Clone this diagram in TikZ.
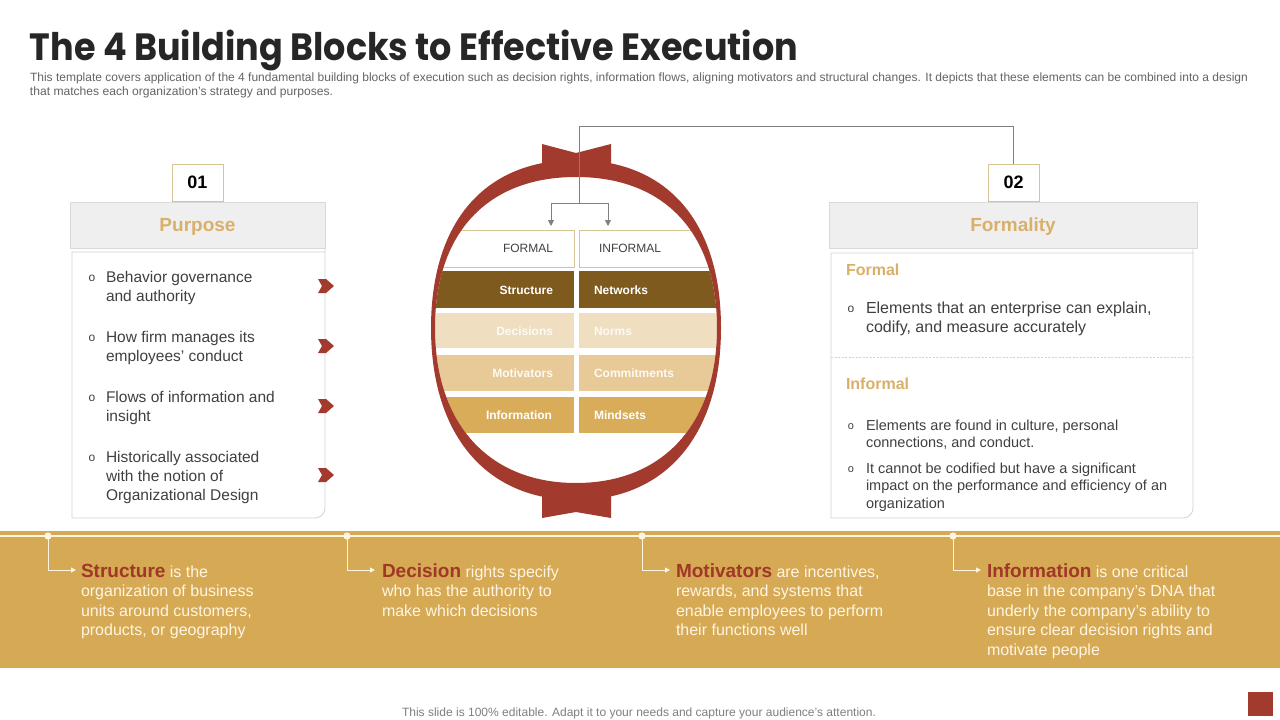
\documentclass[tikz,border=0pt]{standalone}
\usepackage{fontspec}
\setmainfont{Liberation Sans}
\newfontfamily\titlefont{Poppins}
\usetikzlibrary{arrows.meta}
\definecolor{ringred}{RGB}{163,58,46}
\definecolor{gold}{RGB}{214,169,84}
\definecolor{tantext}{RGB}{217,176,106}
\definecolor{tanline}{RGB}{214,196,150}
\definecolor{brownrow}{RGB}{127,90,30}
\definecolor{beigeA}{RGB}{240,222,192}
\definecolor{beigeB}{RGB}{232,202,152}
\definecolor{inforow}{RGB}{217,172,90}
\definecolor{bandred}{RGB}{160,56,40}
\definecolor{bandtext}{RGB}{255,245,225}
\definecolor{titlecol}{RGB}{38,38,38}
\definecolor{subcol}{RGB}{100,100,100}
\definecolor{bodytext}{RGB}{64,64,64}
\definecolor{hdrfill}{RGB}{239,239,239}
\definecolor{hdrline}{RGB}{217,217,217}
\definecolor{boxline}{RGB}{210,210,210}
\definecolor{connector}{RGB}{128,128,128}
\definecolor{footcol}{RGB}{128,128,128}
\newcommand\bkey[1]{{\color{bandred}\bfseries\fontsize{19}{19.5}\selectfont #1}}
\begin{document}
\begin{tikzpicture}[x=1pt,y=-1pt,
  every node/.style={inner sep=0pt, outer sep=0pt},
  numbox/.style={draw=tanline, fill=white, line width=0.7pt, minimum width=51pt, minimum height=37pt,
    font=\bfseries\fontsize{18}{20}\selectfont, text=black},
  hdrbox/.style={draw=hdrline, fill=hdrfill, line width=0.7pt, minimum height=46pt,
    text height=13.7pt, text depth=0pt,
    font=\bfseries\fontsize{19}{22}\selectfont, text=tantext},
  panel/.style={draw=boxline, line width=0.8pt},
  itemtxt/.style={anchor=base west, align=left, font=\fontsize{15.5}{19}\selectfont, text=bodytext},
  smalltxt/.style={anchor=base west, align=left, font=\fontsize{14.5}{17.8}\selectfont, text=bodytext},
  bul/.style={anchor=base, font=\fontsize{12}{12}\selectfont, text=bodytext},
  subhead/.style={anchor=base west, font=\bfseries\fontsize{16}{18}\selectfont, text=tantext},
  chev/.style={fill=ringred},
  celltxt/.style={font=\bfseries\fontsize{12}{14}\selectfont},
  conn/.style={draw=connector, line width=0.9pt},
  connarrow/.style={conn, -{Triangle[length=6pt,width=6pt]}},
  bandarrow/.style={draw=bandtext, line width=1pt, -{Triangle[length=5pt,width=5pt]}},
  bandtxt/.style={anchor=base west, align=left, font=\fontsize{16}{19.5}\selectfont, text=bandtext}
]
\useasboundingbox[fill=white] (0,0) rectangle (1280,720);

% ---------- title ----------
\node[anchor=base west, text=titlecol] (title) at (30,60)
  {\resizebox{768pt}{\height}{\titlefont\bfseries\fontsize{38}{44}\selectfont The 4 Building Blocks to Effective Execution}};
\node[anchor=base west, text=subcol] (sub1) at (30,81.5)
  {\resizebox{1218pt}{\height}{\fontsize{12}{14}\selectfont This template covers application of the 4 fundamental building blocks of execution such as decision rights, information flows, aligning motivators and structural changes. It depicts that these elements can be combined into a design}};
\node[anchor=base west, text=subcol] (sub2) at (30,95.5)
  {\resizebox{303pt}{\height}{\fontsize{12}{14}\selectfont that matches each organization’s strategy and purposes.}};

% ---------- left panel ----------
\draw[panel] (325,252) -- (72,252) -- (72,518) [rounded corners=10pt] -- (325,518) -- (325,252) [sharp corners] -- cycle;
\node[hdrbox, minimum width=255pt] (hp) at (197.5,225) {Purpose};
\node[numbox] (n01) at (197.5,182.5) {01};

% multi-line nodes: base anchor = baseline of the last line
\node[bul] (b1) at (92,281) {o};
\node[itemtxt] (i1) at (106,301) {Behavior governance\\and authority};
\node[bul] (b2) at (92,341) {o};
\node[itemtxt] (i2) at (106,361) {How firm manages its\\employees' conduct};
\node[bul] (b3) at (92,401) {o};
\node[itemtxt] (i3) at (106,421) {Flows of information and\\insight};
\node[bul] (b4) at (92,461) {o};
\node[itemtxt] (i4) at (106,500) {Historically associated\\with the notion of\\Organizational Design};

\foreach \yy in {286,346,406,475}{
  \fill[chev] (318,\yy-7) -- (326,\yy-7) -- (334,\yy) -- (326,\yy+7) -- (318,\yy+7) -- (322,\yy) -- cycle;
}

% ---------- right panel ----------
\draw[panel] (1193,253) -- (831,253) -- (831,518) [rounded corners=10pt] -- (1193,518) -- (1193,253) [sharp corners] -- cycle;
\node[hdrbox, minimum width=368pt] (hf) at (1013,225) {Formality};
\node[numbox] (n02) at (1013.5,182.5) {02};
\node[subhead] (sf) at (846,275) {Formal};
\node[bul] (rb1) at (851,312) {o};
\node[itemtxt, font=\fontsize{16}{19}\selectfont] (ri1) at (866,332) {Elements that an enterprise can explain,\\codify, and measure accurately};
\draw[draw=boxline, line width=0.8pt, dash pattern=on 2pt off 1.5pt] (831,357) -- (1193,357);
\node[subhead] (si) at (846,389) {Informal};
\node[bul, font=\fontsize{11}{12}\selectfont] (rb2) at (851,429) {o};
\node[smalltxt] (ri2) at (866,447.8) {Elements are found in culture, personal\\connections, and conduct.};
\node[bul, font=\fontsize{11}{12}\selectfont] (rb3) at (851,472) {o};
\node[smalltxt] (ri3) at (866,508.6) {It cannot be codified but have a significant\\impact on the performance and efficiency of an\\organization};

% ---------- central ring ----------
\def\innerpath{(576,177) .. controls (487.2,177) and (435,233) .. (435,328) .. controls (435,424) and (489,483) .. (576,483) .. controls (663,483) and (717,424) .. (717,328) .. controls (717,233) and (664.8,177) .. (576,177) -- cycle}
\def\outerpath{(576,160) .. controls (484.6,160) and (431,222) .. (431,328) .. controls (431,434.6) and (486,500) .. (576,500) .. controls (666,500) and (721,434.6) .. (721,328) .. controls (721,222) and (667.4,160) .. (576,160) -- cycle}

\begin{scope}
  \clip \innerpath;
  \filldraw[fill=white, draw=tanline, line width=0.7pt] (420,230) rectangle (574,267);
  \filldraw[fill=white, draw=tanline, line width=0.7pt] (579,230) rectangle (735,267);
  \fill[brownrow] (420,271) rectangle (574,308);
  \fill[brownrow] (579,271) rectangle (735,308);
  \fill[beigeA] (420,313) rectangle (574,348);
  \fill[beigeA] (579,313) rectangle (735,348);
  \fill[beigeB] (420,355) rectangle (574,391);
  \fill[beigeB] (579,355) rectangle (735,391);
  \fill[inforow] (420,397) rectangle (574,433);
  \fill[inforow] (579,397) rectangle (735,433);
\end{scope}
\fill[ringred, even odd rule] \outerpath \innerpath;
\fill[ringred] (542,144) -- (576,153) -- (611,144) -- (611,176) -- (542,176) -- cycle;
\fill[ringred] (542,485) -- (611,485) -- (611,518) -- (576,512) -- (542,518) -- cycle;

\node[font=\fontsize{12}{14}\selectfont, text=bodytext] (formal) at (528,248) {FORMAL};
\node[font=\fontsize{12}{14}\selectfont, text=bodytext] (informal) at (630,248) {INFORMAL};
\node[celltxt, anchor=base east, text=white] (c1) at (553,294) {Structure};
\node[celltxt, anchor=base west, text=white] (c2) at (594,294) {Networks};
\node[celltxt, anchor=base east, text=white!85!beigeA] (c3) at (553,335.5) {Decisions};
\node[celltxt, anchor=base west, text=white!85!beigeA] (c4) at (594,335.5) {Norms};
\node[celltxt, anchor=base east, text=white!90!beigeB] (c5) at (553,377.5) {Motivators};
\node[celltxt, anchor=base west, text=white!90!beigeB] (c6) at (594,377.5) {Commitments};
\node[celltxt, anchor=base east, text=white] (c7) at (552,419) {Information};
\node[celltxt, anchor=base west, text=white] (c8) at (594,419) {Mindsets};

% connectors
\coordinate (k1) at (1013.5,126);
\coordinate (k2) at (579,126);
\coordinate (k3) at (579,203);
\coordinate (kl) at (551,203);
\coordinate (kr) at (608,203);
\coordinate (tl) at (551,226);
\coordinate (tr) at (608,226);
\draw[conn] (n02.north) -- (k1) -- (k2) -- (k3);
\draw[conn] (kl) -- (kr);
\draw[connarrow] (kl) -- (tl);
\draw[connarrow] (kr) -- (tr);

% ---------- bottom band ----------
\fill[gold] (0,531) rectangle (1280,668);
\draw[draw=bandtext, line width=1.1pt] (0,536) -- (1280,536);
\foreach \n/\xx in {d1/48,d2/347,d3/642,d4/953}{
  \fill[bandtext] (\xx,536) circle (3.6pt);
  \coordinate (\n) at (\xx,536);
}
\coordinate (a1) at (76,570);
\coordinate (a2) at (375,570);
\coordinate (a3) at (670,570);
\coordinate (a4) at (981,570);
\draw[bandarrow] (d1) |- (a1);
\draw[bandarrow] (d2) |- (a2);
\draw[bandarrow] (d3) |- (a3);
\draw[bandarrow] (d4) |- (a4);

\node[bandtxt] (t1) at (81,635.5) {\bkey{Structure} is the\\organization of business\\units around customers,\\products, or geography};
\node[bandtxt] (t2) at (382,616) {\bkey{Decision} rights specify\\who has the authority to\\make which decisions};
\node[bandtxt] (t3) at (676,635.5) {\bkey{Motivators} are incentives,\\rewards, and systems that\\enable employees to perform\\their functions well};
\node[bandtxt] (t4) at (987,655) {\bkey{Information} is one critical\\base in the company’s DNA that\\underly the company’s ability to\\ensure clear decision rights and\\motivate people};

% ---------- footer ----------
\node[anchor=base west, text=footcol] (foot) at (402,716)
  {\resizebox{474pt}{\height}{\fontsize{12}{14}\selectfont This slide is 100\% editable. Adapt it to your needs and capture your audience’s attention.}};
\fill[ringred] (1248,692) rectangle (1273,716);
\end{tikzpicture}
\end{document}
